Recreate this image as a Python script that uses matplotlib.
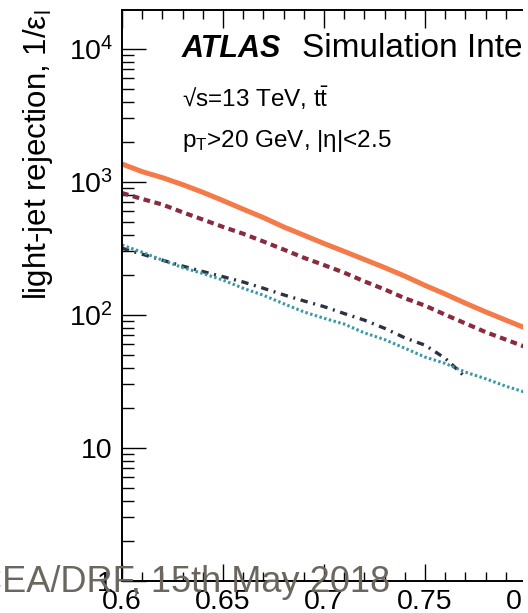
import matplotlib
matplotlib.use('Agg')
import matplotlib.pyplot as plt
import numpy as np
from matplotlib.ticker import MultipleLocator, LogLocator, FuncFormatter, NullFormatter
from matplotlib.patches import Rectangle

plt.rcParams['font.family'] = ['Liberation Sans', 'DejaVu Sans']
plt.rcParams['mathtext.fontset'] = 'custom'
plt.rcParams['mathtext.rm'] = 'Liberation Sans'
plt.rcParams['mathtext.it'] = 'Liberation Sans:italic'
plt.rcParams['mathtext.bf'] = 'Liberation Sans:bold'

# ---- data (b-jet efficiency vs light-jet rejection) ----
eff = [0.60, 0.61, 0.62, 0.63, 0.64, 0.65, 0.66, 0.67, 0.68, 0.69, 0.70,
       0.71, 0.72, 0.73, 0.74, 0.75, 0.76, 0.77, 0.78, 0.79, 0.80]
rej_orange = [1358, 1189, 1072, 950, 832, 721, 621, 537, 457, 396, 343,
              299, 260, 226, 195, 166, 143, 122, 105, 91, 79]
rej_red = [822, 741, 673, 589, 519, 457, 406, 355, 309, 268, 236,
           207, 178, 155, 133, 117, 100, 86, 74, 65, 57]
rej_teal = [334, 295, 257, 226, 204, 182, 158, 140, 121, 105, 94,
            85, 73, 65, 56, 48, 43, 37, 33, 29, 26]
eff_dark = [0.60, 0.61, 0.62, 0.63, 0.64, 0.65, 0.66, 0.67, 0.68, 0.69, 0.70,
            0.71, 0.72, 0.73, 0.74, 0.75, 0.76, 0.765, 0.769]
rej_dark = [316, 285, 257, 232, 211, 193, 176, 158, 141, 127, 115,
            102, 91, 79, 67, 59, 47, 40, 35]

W, H = 528, 613
fig = plt.figure(figsize=(W / 100, H / 100), dpi=100)


def fx(px):
    return px / W


def fy(py):
    return (H - py) / H


ax_left, ax_bot, ax_top = 122, 580.7, 9.5
ax_w = 606  # 0.6 -> 0.9
ax = fig.add_axes([fx(ax_left), fy(ax_bot), ax_w / W, (ax_bot - ax_top) / H])

ax.plot(eff, rej_orange, color='#f47a48', lw=3.6, solid_capstyle='butt')
ax.plot(eff, rej_red, color='#8a2a3f', lw=3.0, linestyle=(0, (1.6, 1.1)))
ax.plot(eff_dark, rej_dark, color='#2d3140', lw=2.4, linestyle=(0, (2.2, 1.7, 0.6, 1.7)))
ax.plot(eff, rej_teal, color='#3a98a6', lw=2.2, linestyle=(0, (0.8, 0.8)))

ax.set_xlim(0.6, 0.9)
ax.set_yscale('log')
ax.set_ylim(1, 1.97e4)

ax.xaxis.set_major_locator(MultipleLocator(0.05))
ax.xaxis.set_minor_locator(MultipleLocator(0.01))
ax.xaxis.set_major_formatter(FuncFormatter(lambda v, p: f'{v:g}'))
ax.yaxis.set_major_locator(LogLocator(base=10, numticks=10))
ax.yaxis.set_minor_locator(LogLocator(base=10, subs=np.arange(2, 10), numticks=100))
ax.yaxis.set_minor_formatter(NullFormatter())


def yfmt(v, pos):
    n = int(round(np.log10(v)))
    if n == 0:
        return '1'
    if n == 1:
        return '10'
    return r'$\mathregular{10^{%d}}$' % n


ax.yaxis.set_major_formatter(FuncFormatter(yfmt))

ax.tick_params(which='both', direction='in', top=True, right=True, width=1.0, colors='black')
ax.tick_params(axis='x', which='major', length=12.6, pad=5.8, labelsize=20.5)
ax.tick_params(axis='x', which='minor', length=6.2)
ax.tick_params(axis='y', which='major', length=17.3, pad=6.5, labelsize=20.5)
ax.tick_params(axis='y', which='minor', length=8.6)
for s in ax.spines.values():
    s.set_linewidth(1.4)

fig.text(fx(38.5), fy(9), 'light-jet rejection, 1/ε$_{\\mathrm{l}}$', rotation=90,
         fontsize=22.5, ha='center', va='top')

fig.text(fx(181.7), fy(56.7), 'ATLAS', fontsize=22, fontweight='bold',
         fontstyle='italic', va='baseline')
fig.text(fx(301.7), fy(56.7), 'Simulation Internal', fontsize=24, va='baseline')
fig.text(fx(182), fy(106.7), '√s=13 TeV, t$\\bar{\\mathrm{t}}$', fontsize=17.5, va='baseline')
fig.text(fx(182), fy(146.7), 'p$_{\\mathrm{T}}$>20 GeV, |η|<2.5', fontsize=17.5, va='baseline')

fig.text(fx(390), fy(591.7), 'CEA/DRF, 15th May 2018', fontsize=26, color='#6b675f',
         ha='right', va='baseline', zorder=10)

fig.patches.append(Rectangle((fx(523), 0), 1 - fx(523), 1, transform=fig.transFigure,
                             facecolor='white', edgecolor='none', zorder=20))

fig.savefig('out.png', dpi=100)
